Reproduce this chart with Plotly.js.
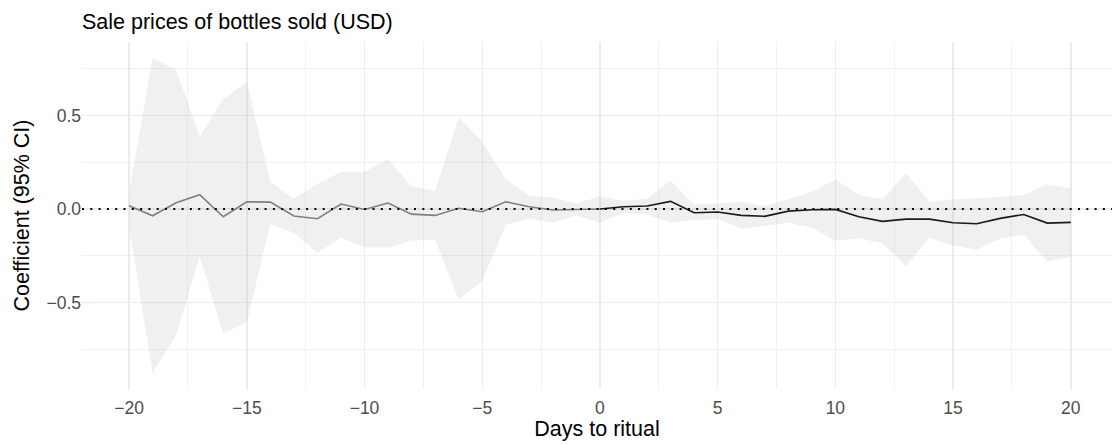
<!DOCTYPE html>
<html>
<head>
<meta charset="utf-8">
<script src="https://cdn.plot.ly/plotly-3.0.1.min.js"></script>
<style>
  html, body { margin: 0; padding: 0; background: #ffffff; }
  #chart { width: 1112px; height: 445px; }
</style>
</head>
<body>
<div id="chart"></div>
<script>
// Days relative to ritual
const days = [-20, -19, -18, -17, -16, -15, -14, -13, -12, -11,
              -10, -9, -8, -7, -6, -5, -4, -3, -2, -1,
              0, 1, 2, 3, 4, 5, 6, 7, 8, 9, 10,
              11, 12, 13, 14, 15, 16, 17, 18, 19, 20];

// Point estimates
const estimate = [0.018, -0.036, 0.034, 0.077, -0.041, 0.039, 0.037, -0.037, -0.052, 0.027,
                  -0.002, 0.032, -0.027, -0.034, 0.004, -0.014, 0.039, 0.012, -0.005, -0.002,
                  0.000, 0.012, 0.016, 0.041, -0.020, -0.016, -0.034, -0.039, -0.011, -0.004, -0.002,
                  -0.041, -0.066, -0.054, -0.054, -0.073, -0.079, -0.050, -0.029, -0.075, -0.071];

// 95% CI upper bound
const ciUpper = [0.090, 0.807, 0.745, 0.388, 0.588, 0.679, 0.146, 0.055, 0.134, 0.200,
                 0.200, 0.268, 0.120, 0.096, 0.489, 0.360, 0.160, 0.071, 0.062, 0.030,
                 0.069, 0.045, 0.055, 0.152, 0.023, 0.030, 0.039, 0.016, 0.052, 0.091, 0.159,
                 0.075, 0.052, 0.191, 0.039, 0.052, 0.057, 0.064, 0.075, 0.132, 0.111];

// 95% CI lower bound
const ciLower = [-0.100, -0.877, -0.675, -0.255, -0.666, -0.604, -0.080, -0.127, -0.234, -0.152,
                 -0.205, -0.205, -0.170, -0.163, -0.484, -0.384, -0.086, -0.050, -0.073, -0.034,
                 -0.072, -0.020, -0.030, -0.073, -0.059, -0.055, -0.105, -0.091, -0.073, -0.100, -0.170,
                 -0.156, -0.184, -0.304, -0.155, -0.195, -0.218, -0.157, -0.136, -0.282, -0.255];

const titleText = "Sale prices of bottles sold (USD)";
const xTitle = "Days to ritual";
const yTitle = "Coefficient (95% CI)";
const xTickVals = [-20, -15, -10, -5, 0, 5, 10, 15, 20];
const xTickText = ["\u221220", "\u221215", "\u221210", "\u22125", "0", "5", "10", "15", "20"];
const yTickVals = [-0.5, 0, 0.5];
const yTickText = ["\u22120.5", "0.0", "0.5"];

const preIdx = days.map((d, i) => i).filter(i => days[i] <= 0);
const postIdx = days.map((d, i) => i).filter(i => days[i] >= 0);

const FONT = "Liberation Sans, Arial, Helvetica, sans-serif";

const traces = [
  {
    x: days, y: ciLower, type: "scatter", mode: "lines",
    line: { width: 0, color: "rgba(0,0,0,0)" }, hoverinfo: "skip", showlegend: false
  },
  {
    x: days, y: ciUpper, type: "scatter", mode: "lines",
    fill: "tonexty", fillcolor: "rgba(179,179,179,0.2)",
    line: { width: 0, color: "rgba(0,0,0,0)" }, hoverinfo: "skip", showlegend: false
  },
  {
    x: preIdx.map(i => days[i]), y: preIdx.map(i => estimate[i]),
    type: "scatter", mode: "lines",
    line: { color: "#7f7f7f", width: 1.6 }, showlegend: false
  },
  {
    x: postIdx.map(i => days[i]), y: postIdx.map(i => estimate[i]),
    type: "scatter", mode: "lines",
    line: { color: "#1a1a1a", width: 1.6 }, showlegend: false
  }
];

const layout = {
  width: 1112, height: 445,
  margin: { l: 82, r: 0, t: 42, b: 56, pad: 0 },
  paper_bgcolor: "#ffffff", plot_bgcolor: "#ffffff",
  font: { family: FONT, color: "#000000" },
  showlegend: false,
  title: {
    text: titleText,
    font: { family: FONT, size: 21.5, color: "#000000" },
    xref: "paper", x: 0, xanchor: "left",
    yref: "container", y: 1 - 21.5 / 445, yanchor: "middle"
  },
  xaxis: {
    range: [-22, 21.75],
    tickvals: xTickVals, ticktext: xTickText,
    showgrid: true, gridcolor: "#EBEBEB", gridwidth: 1.4,
    minor: { dtick: 2.5, tick0: 0, showgrid: true, gridcolor: "#EBEBEB", gridwidth: 0.7 },
    zeroline: false, showline: false, ticks: "",
    ticklabelstandoff: 6,
    tickfont: { family: FONT, size: 17.5, color: "#4d4d4d" },
    title: { text: xTitle, font: { family: FONT, size: 21.5, color: "#000000" }, standoff: 4 }
  },
  yaxis: {
    range: [-0.962, 0.893],
    tickvals: yTickVals, ticktext: yTickText,
    showgrid: true, gridcolor: "#EBEBEB", gridwidth: 1.4,
    minor: { dtick: 0.25, tick0: 0, showgrid: true, gridcolor: "#EBEBEB", gridwidth: 0.7 },
    zeroline: false, showline: false, ticks: "",
    tickfont: { family: FONT, size: 17.5, color: "#4d4d4d" },
    title: { text: yTitle, font: { family: FONT, size: 21.5, color: "#000000" }, standoff: 10 }
  },
  shapes: [
    {
      type: "line", xref: "paper", x0: 0, x1: 1, yref: "y", y0: 0, y1: 0,
      line: { color: "#000000", width: 2, dash: "2px,6.3px" }, layer: "above"
    }
  ]
};

Plotly.newPlot("chart", traces, layout, { displayModeBar: false, staticPlot: true });
</script>
</body>
</html>
